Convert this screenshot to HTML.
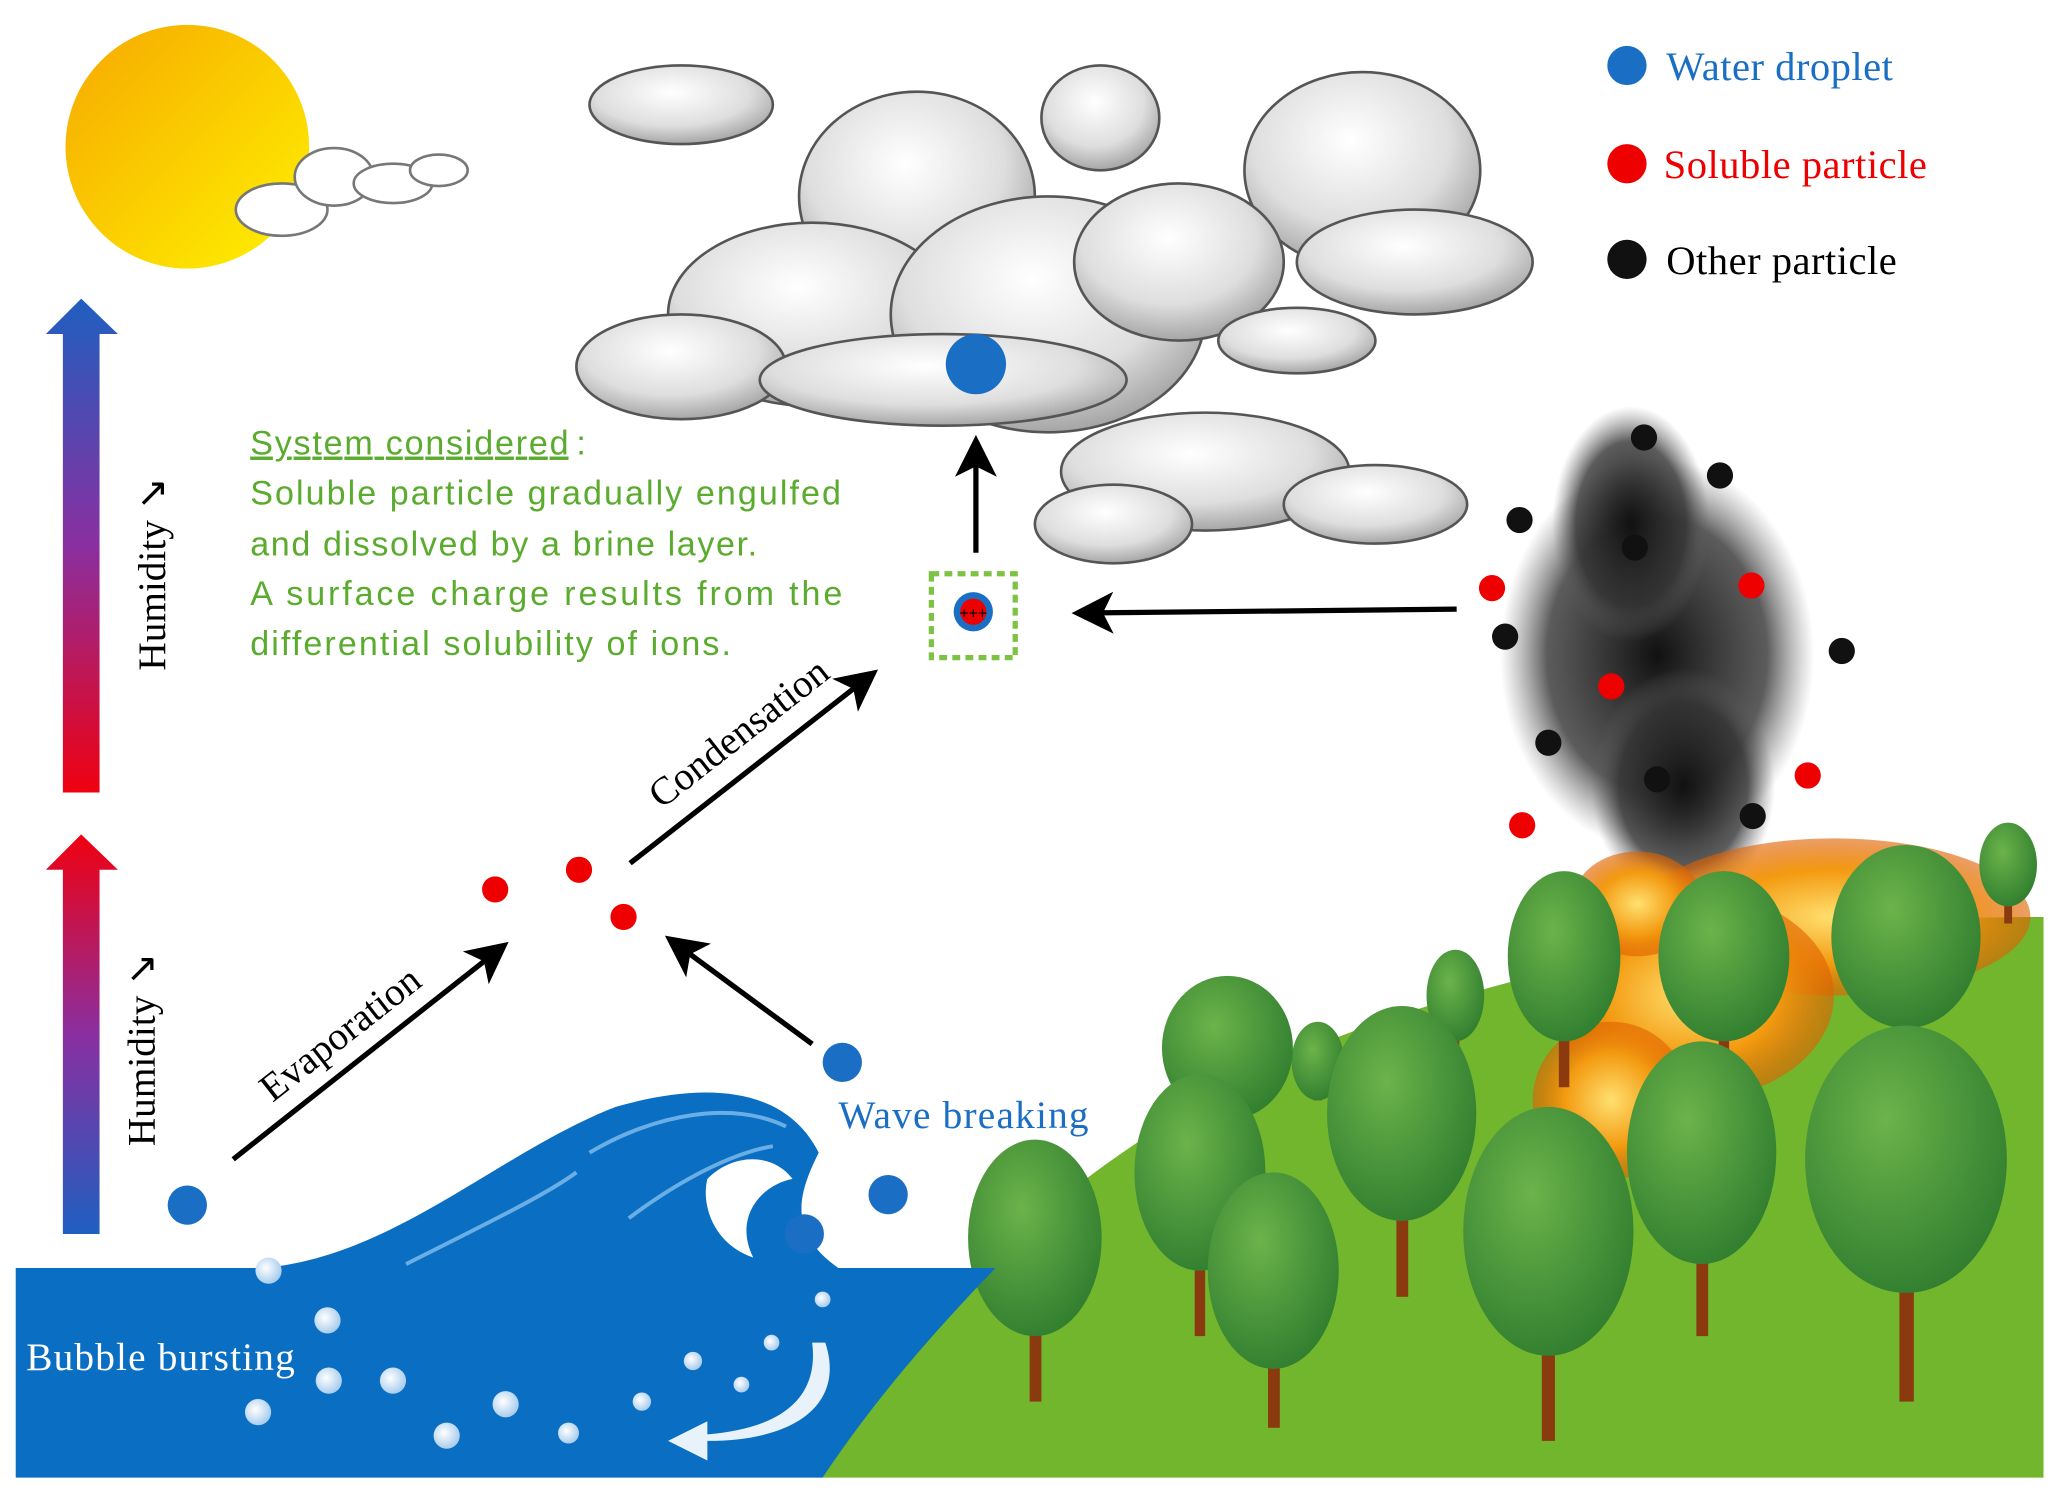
<!DOCTYPE html>
<html><head><meta charset="utf-8"><style>
html,body{margin:0;padding:0;background:#fff;}
svg{display:block;}
</style></head><body>
<svg width="2054" height="1492" viewBox="0 0 1568 1139" preserveAspectRatio="none" xmlns="http://www.w3.org/2000/svg">
<defs>
<linearGradient id="sun" x1="0" y1="0" x2="1" y2="1"><stop offset="0" stop-color="#f6a800"/><stop offset="1" stop-color="#fff200"/></linearGradient>
<linearGradient id="up1" x1="0" y1="0" x2="0" y2="1"><stop offset="0" stop-color="#1f5fc0"/><stop offset="0.5" stop-color="#8a2fa0"/><stop offset="1" stop-color="#f00010"/></linearGradient>
<linearGradient id="up2" x1="0" y1="0" x2="0" y2="1"><stop offset="0" stop-color="#f00010"/><stop offset="0.5" stop-color="#8a2fa0"/><stop offset="1" stop-color="#1f5fc0"/></linearGradient>
<radialGradient id="cl" cx="0.45" cy="0.35" r="0.7"><stop offset="0" stop-color="#ffffff"/><stop offset="0.6" stop-color="#dedede"/><stop offset="1" stop-color="#9a9a9a"/></radialGradient>
<radialGradient id="smk" cx="0.5" cy="0.5" r="0.5"><stop offset="0" stop-color="#111"/><stop offset="0.7" stop-color="#333" stop-opacity="0.8"/><stop offset="1" stop-color="#666" stop-opacity="0"/></radialGradient>
<radialGradient id="tree" cx="0.4" cy="0.35" r="0.7"><stop offset="0" stop-color="#6cb34a"/><stop offset="1" stop-color="#2f7d2f"/></radialGradient>
<radialGradient id="bub" cx="0.4" cy="0.4" r="0.6"><stop offset="0" stop-color="#fff"/><stop offset="1" stop-color="#a9cdee"/></radialGradient>
<radialGradient id="fire" cx="0.5" cy="0.5" r="0.5"><stop offset="0" stop-color="#ffe070"/><stop offset="0.6" stop-color="#f39a10"/><stop offset="1" stop-color="#e06000" stop-opacity="0.6"/></radialGradient>
<marker id="ah" markerWidth="8" markerHeight="8" refX="6" refY="4" orient="auto" markerUnits="strokeWidth"><path d="M0,0 L8,4 L0,8 L2,4 z" fill="#000"/></marker>
</defs>

<!-- sun -->
<circle cx="143" cy="112" r="93" fill="url(#sun)"/>
<g fill="#fff" stroke="#777" stroke-width="2">
<ellipse cx="215" cy="160" rx="35" ry="20"/><ellipse cx="255" cy="135" rx="30" ry="22"/><ellipse cx="300" cy="140" rx="30" ry="15"/><ellipse cx="335" cy="130" rx="22" ry="12"/>
</g>

<!-- big cloud -->
<g fill="url(#cl)" stroke="#555" stroke-width="2">
<ellipse cx="520" cy="80" rx="70" ry="30"/>
<ellipse cx="840" cy="90" rx="45" ry="40"/>
<ellipse cx="1040" cy="130" rx="90" ry="75"/>
<ellipse cx="1080" cy="200" rx="90" ry="40"/>
<ellipse cx="700" cy="150" rx="90" ry="80"/>
<ellipse cx="620" cy="240" rx="110" ry="70"/>
<ellipse cx="520" cy="280" rx="80" ry="40"/>
<ellipse cx="800" cy="240" rx="120" ry="90"/>
<ellipse cx="900" cy="200" rx="80" ry="60"/>
<ellipse cx="720" cy="290" rx="140" ry="35"/>
<ellipse cx="920" cy="360" rx="110" ry="45"/>
<ellipse cx="1050" cy="385" rx="70" ry="30"/>
<ellipse cx="850" cy="400" rx="60" ry="30"/>
<ellipse cx="990" cy="260" rx="60" ry="25"/>
</g>
<circle cx="745" cy="278" r="23" fill="#1a6fc4"/>

<!-- legend -->
<circle cx="1242" cy="50" r="15" fill="#1a6fc4"/>
<circle cx="1242" cy="125" r="15" fill="#ee0000"/>
<circle cx="1242" cy="198" r="15" fill="#111"/>
<g font-family="Liberation Serif, serif" font-size="31">
<text x="1272" y="61" fill="#1a6fc4" textLength="173">Water droplet</text>
<text x="1270" y="136" fill="#ee0000" textLength="201">Soluble particle</text>
<text x="1272" y="209" fill="#000" textLength="176">Other particle</text>
</g>

<!-- humidity arrows -->
<path d="M48,605 L48,255 L35,255 L62,228 L90,255 L76,255 L76,605 z" fill="url(#up1)"/>
<path d="M48,942 L48,664 L35,664 L62,637 L90,664 L76,664 L76,942 z" fill="url(#up2)"/>
<text transform="translate(126,512) rotate(-90)" font-family="Liberation Serif, serif" font-size="30">Humidity ↘</text>
<text transform="translate(118,875) rotate(-90)" font-family="Liberation Serif, serif" font-size="30">Humidity ↘</text>

<!-- green text -->
<g font-family="Liberation Sans, sans-serif" font-size="26" fill="#5aab2e">
<text x="191" y="347" text-decoration="underline" textLength="243">System considered </text><text x="440" y="347">:</text>
<text x="191" y="385" textLength="451">Soluble particle gradually engulfed</text>
<text x="191" y="424" textLength="387">and dissolved by a brine layer.</text>
<text x="191" y="462" textLength="452">A surface charge results from the</text>
<text x="191" y="500" textLength="367">differential solubility of ions.</text>
</g>

<!-- system box -->
<rect x="711" y="438" width="64" height="64" fill="none" stroke="#7dc242" stroke-width="4" stroke-dasharray="6,4"/>
<circle cx="743" cy="467" r="15" fill="#1a6fc4"/>
<circle cx="743" cy="467" r="10" fill="#ee0000"/>
<text x="743" y="472" font-size="12" text-anchor="middle" fill="#000" font-family="Liberation Sans, sans-serif">+++</text>

<!-- arrows -->
<g stroke="#000" stroke-width="4" fill="none" marker-end="url(#ah)">
<line x1="745" y1="422" x2="745" y2="340"/>
<line x1="1112" y1="465" x2="826" y2="468"/>
<line x1="481" y1="659" x2="664" y2="516"/>
<line x1="178" y1="885" x2="382" y2="724"/>
<line x1="620" y1="797" x2="514" y2="719"/>
</g>
<text transform="translate(505,618) rotate(-38)" font-family="Liberation Serif, serif" font-size="30">Condensation</text>
<text transform="translate(208,842) rotate(-38)" font-family="Liberation Serif, serif" font-size="30">Evaporation</text>

<circle cx="378" cy="679" r="10" fill="#ee0000"/>
<circle cx="442" cy="664" r="10" fill="#ee0000"/>
<circle cx="476" cy="700" r="10" fill="#ee0000"/>

<!-- smoke -->
<ellipse cx="1265" cy="500" rx="120" ry="150" fill="url(#smk)"/>
<ellipse cx="1285" cy="600" rx="70" ry="90" fill="url(#smk)"/>
<ellipse cx="1245" cy="400" rx="60" ry="90" fill="url(#smk)"/>
<g fill="#111">
<circle cx="1255" cy="334" r="10"/><circle cx="1313" cy="363" r="10"/><circle cx="1160" cy="397" r="10"/><circle cx="1248" cy="418" r="10"/><circle cx="1149" cy="486" r="10"/><circle cx="1406" cy="497" r="10"/><circle cx="1182" cy="567" r="10"/><circle cx="1265" cy="595" r="10"/><circle cx="1338" cy="623" r="10"/>
</g>
<g fill="#ee0000">
<circle cx="1139" cy="449" r="10"/><circle cx="1337" cy="447" r="10"/><circle cx="1230" cy="524" r="10"/><circle cx="1380" cy="592" r="10"/><circle cx="1162" cy="630" r="10"/>
</g>

<!-- hill -->
<path d="M628,1128 C700,1000 820,880 1000,800 C1200,720 1400,700 1560,700 L1560,1128 z" fill="#72b62e"/>
<!-- fire -->
<ellipse cx="1400" cy="700" rx="150" ry="60" fill="url(#fire)"/>
<ellipse cx="1290" cy="760" rx="110" ry="80" fill="url(#fire)"/>
<ellipse cx="1230" cy="840" rx="60" ry="60" fill="url(#fire)"/>
<ellipse cx="1250" cy="690" rx="50" ry="40" fill="url(#fire)"/>

<!-- trees -->
<g>
<g fill="#8b3a10">
<rect x="1530" y="660" width="6" height="45"/><rect x="1108" y="760" width="6" height="40"/><rect x="1003" y="800" width="6" height="40"/>
<rect x="1190" y="720" width="8" height="110"/><rect x="1312" y="720" width="8" height="110"/><rect x="1451" y="700" width="9" height="120"/>
<rect x="933" y="790" width="8" height="120"/><rect x="1066" y="830" width="9" height="160"/><rect x="912" y="880" width="8" height="140"/>
<rect x="786" y="940" width="9" height="130"/><rect x="968" y="960" width="9" height="130"/><rect x="1177" y="930" width="10" height="170"/>
<rect x="1295" y="870" width="9" height="150"/><rect x="1450" y="870" width="11" height="200"/>
</g>
<g fill="url(#tree)">
<ellipse cx="1533" cy="660" rx="22" ry="32"/><ellipse cx="1111" cy="760" rx="22" ry="35"/><ellipse cx="1006" cy="810" rx="20" ry="30"/>
<ellipse cx="1194" cy="730" rx="43" ry="65"/><ellipse cx="1316" cy="730" rx="50" ry="65"/><ellipse cx="1455" cy="715" rx="57" ry="70"/>
<ellipse cx="937" cy="800" rx="50" ry="55"/><ellipse cx="1070" cy="850" rx="57" ry="82"/><ellipse cx="916" cy="895" rx="50" ry="75"/>
<ellipse cx="790" cy="945" rx="51" ry="75"/><ellipse cx="972" cy="970" rx="50" ry="75"/><ellipse cx="1182" cy="940" rx="65" ry="95"/>
<ellipse cx="1299" cy="880" rx="57" ry="85"/><ellipse cx="1455" cy="885" rx="77" ry="102"/>
</g>
</g>

<!-- sea -->
<path d="M12,968 L200,968 C300,960 380,880 470,845 C540,825 600,830 625,880 C610,910 600,940 640,968 L760,968 C700,1030 660,1080 628,1128 L12,1128 z" fill="#0a6ec2"/>
<path d="M540,900 C560,880 590,880 605,900 C580,905 560,930 575,960 C545,950 535,920 540,900 z" fill="#fff"/>
<g stroke="#6aaee6" stroke-width="3" fill="none">
<path d="M310,965 C380,930 420,910 440,895"/><path d="M450,880 C500,850 560,840 600,860"/><path d="M480,930 C520,900 560,880 590,875"/>
</g>
<path d="M630,1025 C645,1070 610,1100 540,1100 L540,1115 L510,1100 L540,1085 L540,1095 C600,1090 625,1065 620,1025 z" fill="#e8f2fb"/>
<g fill="url(#bub)">
<circle cx="250" cy="1008" r="10"/><circle cx="251" cy="1054" r="10"/><circle cx="300" cy="1054" r="10"/><circle cx="197" cy="1078" r="10"/>
<circle cx="386" cy="1072" r="10"/><circle cx="341" cy="1096" r="10"/><circle cx="434" cy="1094" r="8"/><circle cx="490" cy="1070" r="7"/>
<circle cx="529" cy="1039" r="7"/><circle cx="566" cy="1057" r="6"/><circle cx="589" cy="1025" r="6"/><circle cx="628" cy="992" r="6"/>
<circle cx="205" cy="970" r="10"/>
</g>
<path d="M124,968 C124,955 134,955 134,968 M150,968 C150,955 160,955 160,968" stroke="#fff" stroke-width="6" fill="none"/>
<circle cx="143" cy="920" r="15" fill="#1a6fc4"/>
<circle cx="643" cy="811" r="15" fill="#1a6fc4"/>
<circle cx="678" cy="912" r="15" fill="#1a6fc4"/>
<circle cx="614" cy="942" r="15" fill="#1a6fc4"/>
<text x="640" y="861" font-family="Liberation Serif, serif" font-size="30" fill="#1a6fc4" textLength="191">Wave breaking</text>
<text x="20" y="1046" font-family="Liberation Serif, serif" font-size="30" fill="#fff" textLength="205">Bubble bursting</text>
</svg>
</body></html>
